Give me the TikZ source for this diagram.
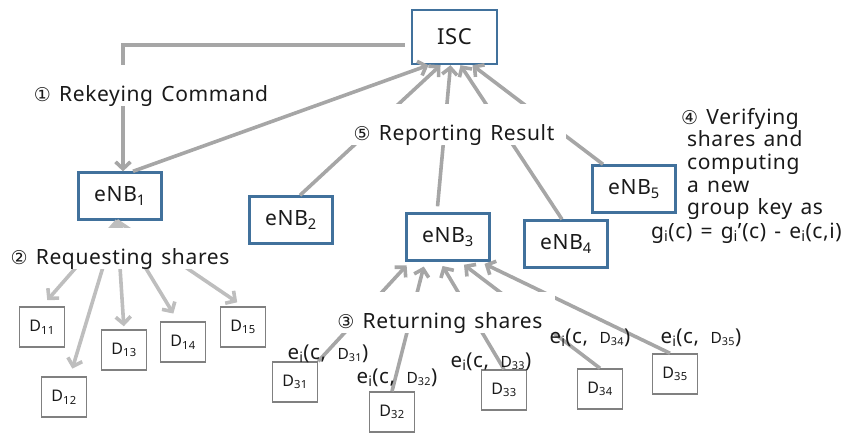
\documentclass[tikz,border=0pt]{standalone}
\usepackage{fontspec}
\setmainfont{Noto Sans}[LetterSpace=3, WordSpace=1.35]
\newfontfamily\symf{DejaVu Sans}
\usetikzlibrary{arrows.meta}
\definecolor{boxblue}{HTML}{41719C}
\definecolor{lngray}{HTML}{A6A6A6}
\definecolor{lngraylt}{HTML}{BEBEBE}
\definecolor{dgray}{HTML}{808080}
\definecolor{txt}{HTML}{1A1A1A}
\newcommand{\cnum}[1]{{\symf\fontsize{19}{19}\selectfont #1}}
\newcommand{\sh}[1]{e\textsubscript{i}(c,\, {\fontsize{15.5}{15}\selectfont D\textsubscript{#1}})}
\begin{document}
\begin{tikzpicture}[x=1pt,y=-1pt,
  enb/.style={draw=boxblue, line width=2.4pt, fill=white, minimum width=83pt, minimum height=47pt, inner sep=0pt, text=txt, font=\fontsize{21}{21}\selectfont},
  dev/.style={draw=dgray, line width=1.5pt, fill=white, minimum width=45pt, minimum height=40pt, inner sep=0pt, text=txt, font=\fontsize{16}{16}\selectfont},
  conn/.style={draw=lngray, line width=3.6pt},
  arr/.style={conn, -{Straight Barb[length=7pt,width=15pt]}},
  arrlt/.style={arr, draw=lngraylt},
  lbl/.style={fill=white, inner xsep=12pt, inner ysep=2pt, text height=34pt, text depth=3pt, text=txt, font=\fontsize{21}{24}\selectfont, anchor=base},
  elbl/.style={inner sep=0pt, text=txt, font=\fontsize{20.5}{24}\selectfont, anchor=base},
  note/.style={inner sep=0pt, text=txt, font=\fontsize{21}{22.6}\selectfont}
]
\useasboundingbox (0,0) rectangle (843,434);

% nodes
\node[enb, minimum width=85pt, minimum height=54pt, font=\fontsize{22}{22}\selectfont] (ISC) at (454.5,37) {ISC};
\node[enb] (e1) at (120,196) {eNB\textsubscript{1}};
\node[enb] (e2) at (291,220) {eNB\textsubscript{2}};
\node[enb] (e3) at (448,237) {eNB\textsubscript{3}};
\node[enb] (e4) at (566,244) {eNB\textsubscript{4}};
\node[enb] (e5) at (634,189) {eNB\textsubscript{5}};

\node[dev] (d11) at (42,327) {D\textsubscript{11}};
\node[dev] (d12) at (64,397) {D\textsubscript{12}};
\node[dev] (d13) at (124,350) {D\textsubscript{13}};
\node[dev] (d14) at (183,342) {D\textsubscript{14}};
\node[dev] (d15) at (243,327) {D\textsubscript{15}};
\node[dev] (d31) at (295,382) {D\textsubscript{31}};
\node[dev] (d32) at (392,412) {D\textsubscript{32}};
\node[dev] (d33) at (504,390) {D\textsubscript{33}};
\node[dev] (d34) at (600,389) {D\textsubscript{34}};
\node[dev] (d35) at (675,374) {D\textsubscript{35}};

% rekeying command
\draw[arr, shorten <=6pt] ([yshift=-8pt]ISC.west) -| ([xshift=3pt]e1.north);

% reporting result
\draw[arr] ([xshift=9pt]e2.north) -- ([xshift=-14pt]ISC.south);
\draw[arr, shorten <=6pt] ([xshift=-11pt]e3.north) -- ([xshift=-4pt]ISC.south);
\draw[arr] ([xshift=-4pt]e4.north) -- ([xshift=6pt]ISC.south);
\draw[arr] ([xshift=-31pt]e5.north) -- ([xshift=18pt]ISC.south);

% requesting shares
\draw[arrlt, shorten >=8pt] ([xshift=-3pt]e1.south) -- (d11.north);
\draw[arrlt, shorten >=8pt] ([xshift=-3pt]e1.south) -- ([xshift=6pt]d12.north);
\draw[arrlt, shorten >=3pt] ([xshift=-3pt]e1.south) -- (d13.north);
\draw[arrlt, shorten >=9pt] ([xshift=-3pt]e1.south) -- ([xshift=-5pt]d14.north);
\draw[arrlt, shorten >=7pt] ([xshift=-3pt]e1.south) -- (d15.north);

% returning shares
\draw[arr, shorten >=5pt] (d31.north east) -- ([xshift=-38pt]e3.south);
\draw[arr, shorten >=5pt] (d32.north) -- ([xshift=-23pt]e3.south);
\draw[arr, shorten >=5pt] (d33.north) -- ([xshift=-8pt]e3.south);
\draw[arr, shorten >=5pt] (d34.north) -- ([xshift=12pt]e3.south);
\draw[arr, shorten >=5pt] ([xshift=-5pt]d35.north) -- ([xshift=32pt]e3.south);

% step labels
\node[lbl] (l1) at (151,101) {\cnum{①} Rekeying Command};
\node[lbl] (l5) at (454,140) {\cnum{⑤} Reporting Result};
\node[lbl] (l2) at (120,264) {\cnum{②} Requesting shares};
\node[lbl] (l3) at (440,328) {\cnum{③} Returning shares};

\draw[arr] ([xshift=13pt]e1.north) -- ([xshift=-26pt]ISC.south);

% share labels
\node[elbl] (s31) at (328,359) {\sh{31}};
\node[elbl] (s32) at (397,383) {\sh{32}};
\node[elbl] (s33) at (491,367) {\sh{33}};
\node[elbl] (s34) at (590,343) {\sh{34}};
\node[elbl] (s35) at (701,343) {\sh{35}};

% verifying note
\node[note, anchor=north west, align=left] (n4) at (681,108)
  {\cnum{④} Verifying\\ \hspace*{6pt}shares and\\ \hspace*{6pt}computing\\ \hspace*{6pt}a new\\ \hspace*{6pt}group key as};
\node[note, anchor=base east] (n4f) at (842,238)
  {g\textsubscript{i}(c) = g\textsubscript{i}'(c) - e\textsubscript{i}(c,i)};
\end{tikzpicture}
\end{document}
